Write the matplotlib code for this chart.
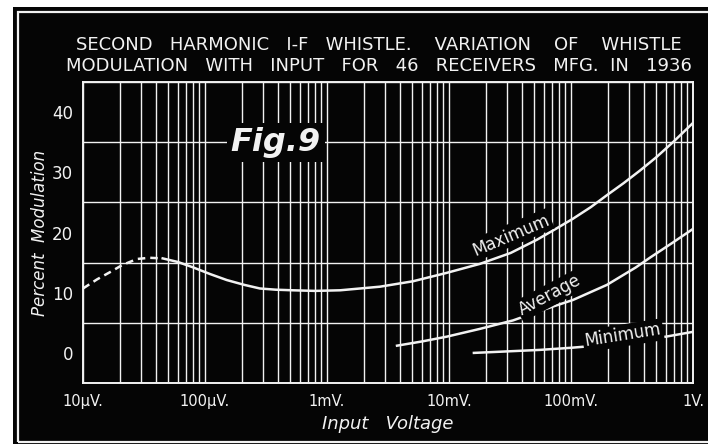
import matplotlib.pyplot as plt
from matplotlib.patches import Rectangle

# Data (input voltage in volts, percent modulation)
dashed_v = [1.0e-5, 1.3e-5, 1.66e-5, 2.1e-5, 2.77e-5, 3.5e-5, 4.5e-5]
dashed_y = [10.7, 12.2, 13.4, 14.6, 15.6, 15.8, 15.7]

max_v = [4.5e-5, 6.0e-5, 8.0e-5, 1.1e-4, 1.51e-4, 2.1e-4, 2.82e-4, 3.8e-4, 5.24e-4,
         8.0e-4, 1.28e-3, 2.72e-3, 5.07e-3, 9.6e-3, 1.8e-2, 3.2e-2, 5.26e-2,
         7.5e-2, 1.04e-1, 1.45e-1, 1.97e-1, 2.7e-1, 3.68e-1, 5.0e-1, 6.85e-1, 1.0]
max_y = [15.7, 15.1, 14.2, 13.1, 12.1, 11.3, 10.7, 10.5, 10.4,
         10.3, 10.4, 11.0, 11.9, 13.3, 14.8, 16.6, 18.8,
         20.6, 22.3, 24.2, 26.2, 28.2, 30.3, 32.5, 35.0, 38.2]

avg_v = [3.75e-3, 6.0e-3, 9.6e-3, 1.8e-2, 3.35e-2, 5.6e-2, 1.04e-1, 1.97e-1,
         3.4e-1, 4.5e-1, 6.8e-1, 1.0]
avg_y = [1.2, 1.9, 2.7, 4.0, 5.4, 7.0, 8.8, 11.3, 14.2, 15.9, 18.3, 20.6]

min_v = [1.6e-2, 3.0e-2, 5.56e-2, 1.0e-1, 1.97e-1, 3.68e-1, 6.0e-1, 1.0]
min_y = [0.0, 0.25, 0.5, 0.85, 1.35, 2.0, 2.7, 3.5]

x_ticks = [1e-5, 1e-4, 1e-3, 1e-2, 1e-1, 1.0]
x_labels = ['10\u00b5V.', '100\u00b5V.', '1mV.', '10mV.', '100mV.', '1V.']
y_ticks = [0, 10, 20, 30, 40]

ink = '#f2f2f2'
bg = '#050505'

fig = plt.figure(figsize=(7.08, 4.44), dpi=100, facecolor='white')

# black panel with a white inner frame, like the printed plate
fig.patches.append(Rectangle((13 / 708, 0), 1, 1 - 7 / 444, transform=fig.transFigure,
                             facecolor=bg, edgecolor='none', zorder=-10))
fig.patches.append(Rectangle((18 / 708, 2 / 444), 1, 1 - 14 / 444, transform=fig.transFigure,
                             facecolor='none', edgecolor=ink, linewidth=1.6, zorder=-9))

ax = fig.add_axes([83 / 708, 1 - 383 / 444, 610 / 708, 301 / 444])
ax.set_facecolor(bg)
ax.set_xscale('log')
ax.set_xlim(1e-5, 1.0)
ax.set_ylim(-5, 45)

# graph paper grid
ax.set_yticks(range(-5, 46, 5), minor=True)
ax.grid(True, which='both', axis='x', color=ink, linewidth=1.0)
ax.grid(True, which='minor', axis='y', color=ink, linewidth=1.0)
ax.set_axisbelow(True)
for s in ax.spines.values():
    s.set_color(ink)
    s.set_linewidth(1.4)

ax.set_xticks(x_ticks)
ax.set_xticklabels(x_labels)
ax.set_yticks(y_ticks)
ax.tick_params(which='both', length=0, colors=ink)
ax.tick_params(axis='x', labelsize=10.5, pad=8)
ax.tick_params(axis='y', labelsize=12, pad=7)

ax.plot(dashed_v, dashed_y, color=ink, linewidth=1.8, linestyle=(0, (3, 2)))
ax.plot(max_v, max_y, color=ink, linewidth=1.8)
ax.plot(avg_v, avg_y, color=ink, linewidth=1.8)
ax.plot(min_v, min_y, color=ink, linewidth=1.8)

box = dict(facecolor=bg, edgecolor='none', pad=1.5)
ax.text(0.0322, 19.6, 'Maximum', color=ink, fontsize=12, rotation=23,
        ha='center', va='center', bbox=box)
ax.text(0.0673, 9.6, 'Average', color=ink, fontsize=12, rotation=28,
        ha='center', va='center', bbox=box)
ax.text(0.267, 2.9, 'Minimum', color=ink, fontsize=12, rotation=9,
        ha='center', va='center', bbox=box)

ax.text(0.316, 0.8, 'Fig.9', transform=ax.transAxes, color=ink, fontsize=23,
        fontstyle='italic', fontweight='bold', ha='center', va='center',
        bbox=dict(facecolor=bg, edgecolor='none', pad=3))

ax.set_ylabel('Percent  Modulation', color=ink, fontsize=12, fontstyle='italic', labelpad=2)
ax.set_xlabel('Input   Voltage', color=ink, fontsize=13, fontstyle='italic', labelpad=4)

fig.text(0.535, 1 - 45 / 444, 'SECOND   HARMONIC   I-F   WHISTLE.    VARIATION    OF    WHISTLE',
         color=ink, fontsize=13, ha='center', va='center')
fig.text(0.535, 1 - 66 / 444, 'MODULATION   WITH   INPUT   FOR   46   RECEIVERS   MFG.  IN   1936',
         color=ink, fontsize=13, ha='center', va='center')

fig.savefig('out.png', dpi=100, facecolor=fig.get_facecolor())
